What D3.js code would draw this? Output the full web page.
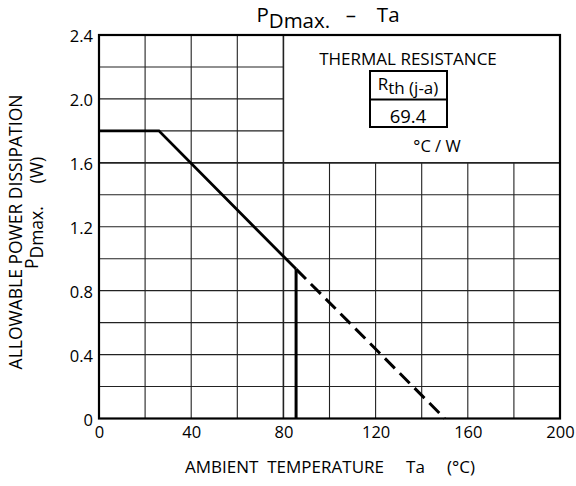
<!DOCTYPE html>
<html><head><meta charset="utf-8">
<script src="https://cdn.jsdelivr.net/npm/d3@7"></script>
<style>
body{margin:0;background:#fff;}
svg{display:block;font-family:"Open Sans",sans-serif;}
</style></head>
<body><svg id="c" width="576" height="486"></svg>
<script>
// ---- data ----
const xTicks = [0, 40, 80, 120, 160, 200];
const yTicks = [0, 0.4, 0.8, 1.2, 1.6, 2.0, 2.4];
const xGrid = [20, 40, 60, 80, 100, 120, 140, 160, 180];
const yGrid = [0.2, 0.4, 0.6, 0.8, 1.0, 1.2, 1.4, 1.6, 1.8, 2.0, 2.2];
const ratedTemp = [0, 26, 85.5];
const ratedPower = [1.8, 1.8, 0.935];
const cutoffTemp = [85.5, 85.5];
const cutoffPower = [0.935, 0];
const deratedTemp = [85.5, 150];
const deratedPower = [0.935, 0];
const insetTemp = [80, 200];     // inset box spans these temperatures
const insetPower = [1.6, 2.4];   // and these powers
const rthLabel = "69.4";

// ---- layout ----
const svg = d3.select("#c");
const x = d3.scaleLinear().domain([0, 200]).range([99, 560]);
const y = d3.scaleLinear().domain([0, 2.4]).range([418.5, 35]);

// grid
const g = svg.append("g");
xGrid.forEach(v => {
  const top = v > insetTemp[0] ? insetPower[0] : 2.4;
  g.append("line").attr("x1", x(v)).attr("x2", x(v)).attr("y1", y(0)).attr("y2", y(top))
    .attr("stroke", "#222").attr("stroke-width", v === insetTemp[0] ? 1.6 : 1.1);
});
yGrid.forEach(v => {
  const right = v > insetPower[0] ? insetTemp[0] : 200;
  g.append("line").attr("x1", x(0)).attr("x2", x(right)).attr("y1", y(v)).attr("y2", y(v))
    .attr("stroke", "#222").attr("stroke-width", v === insetPower[0] ? 1.6 : 1.1);
});

// frame
svg.append("rect").attr("x", x(0)).attr("y", y(2.4)).attr("width", x(200) - x(0)).attr("height", y(0) - y(2.4))
  .attr("fill", "none").attr("stroke", "#000").attr("stroke-width", 2.2);

// curves
const line = d3.line().x(d => x(d[0])).y(d => y(d[1]));
const zip = (a, b) => a.map((v, i) => [v, b[i]]);
svg.append("path").attr("d", line(zip(ratedTemp, ratedPower)))
  .attr("fill", "none").attr("stroke", "#000").attr("stroke-width", 2.8).attr("stroke-linejoin", "miter");
svg.append("path").attr("d", line(zip(cutoffTemp, cutoffPower)))
  .attr("fill", "none").attr("stroke", "#000").attr("stroke-width", 3);
svg.append("path").attr("d", line(zip(deratedTemp, deratedPower)))
  .attr("fill", "none").attr("stroke", "#000").attr("stroke-width", 3).attr("stroke-dasharray", "14,7");

// axes
const xAxis = svg.append("g").attr("transform", `translate(0,${y(0)})`)
  .call(d3.axisBottom(x).tickValues(xTicks).tickSize(0).tickPadding(8).tickFormat(d3.format("d")));
xAxis.select(".domain").remove();
xAxis.selectAll("text").attr("font-size", 16.5).attr("font-family", "Open Sans").attr("fill", "#000");

const yAxis = svg.append("g").attr("transform", `translate(${x(0)},0)`)
  .call(d3.axisLeft(y).tickValues(yTicks).tickSize(0).tickPadding(6).tickFormat(d => d === 0 ? "0" : d3.format(".1f")(d)));
yAxis.select(".domain").remove();
yAxis.selectAll("text").attr("font-size", 16.5).attr("font-family", "Open Sans").attr("fill", "#000").attr("dy", "0.42em");

// title
const t = svg.append("text").attr("x", 328).attr("y", 22).attr("text-anchor", "middle")
  .attr("font-size", 20.5).attr("fill", "#000");
t.append("tspan").text("P");
t.append("tspan").attr("dy", 6).text("Dmax.");
t.append("tspan").attr("dy", -6).text("\u2002 \u2013 \u2002 Ta");

// x label
svg.append("text").attr("x", 330).attr("y", 473).attr("text-anchor", "middle")
  .attr("font-size", 17).attr("fill", "#000").attr("xml:space", "preserve")
  .text("AMBIENT  TEMPERATURE     Ta     (\u00B0C)");

// y label
svg.append("text").attr("transform", "translate(22,232) rotate(-90)").attr("text-anchor", "middle")
  .attr("font-size", 17.5).attr("fill", "#000").text("ALLOWABLE POWER DISSIPATION");
const yl = svg.append("text").attr("transform", "translate(43,213) rotate(-90)").attr("text-anchor", "middle")
  .attr("font-size", 17.5).attr("fill", "#000").attr("xml:space", "preserve");
yl.append("tspan").attr("dy", -5).text("P");
yl.append("tspan").attr("dy", 5).text("Dmax.");
yl.append("tspan").text("     (W)");

// inset
svg.append("text").attr("x", 408).attr("y", 65).attr("text-anchor", "middle")
  .attr("font-size", 17).attr("fill", "#000").text("THERMAL  RESISTANCE");
svg.append("rect").attr("x", 370).attr("y", 71).attr("width", 77).attr("height", 56)
  .attr("fill", "#fff").attr("stroke", "#000").attr("stroke-width", 2);
svg.append("line").attr("x1", 370).attr("x2", 447).attr("y1", 99.5).attr("y2", 99.5)
  .attr("stroke", "#000").attr("stroke-width", 2);
const r = svg.append("text").attr("x", 408).attr("y", 90).attr("text-anchor", "middle")
  .attr("font-size", 17).attr("fill", "#000");
r.append("tspan").text("R");
r.append("tspan").attr("dy", 4).text("th (j-a)");
svg.append("text").attr("x", 408).attr("y", 123).attr("text-anchor", "middle")
  .attr("font-size", 18.5).attr("fill", "#000").text(rthLabel);
svg.append("text").attr("x", 437).attr("y", 152).attr("text-anchor", "middle")
  .attr("font-size", 16.5).attr("fill", "#000").text("\u00B0C / W");
</script></body></html>
